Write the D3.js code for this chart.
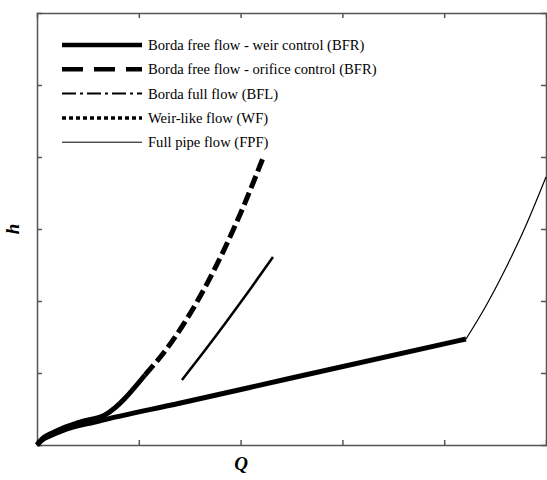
<!DOCTYPE html>
<html>
<meta charset="utf-8" />
<head>
<style>
body { margin: 0; background: #fff; }
svg text { font-family: "Liberation Serif", "DejaVu Serif", serif; fill: black; }
</style>
<script src="https://d3js.org/d3.v7.min.js" charset="utf-8"></script>
</head>
<body>
<svg class="chart"></svg>
<script>
var chartWidth = 547;
var chartHeight = 480;

/*******
* Data *
*******/
// Borda free flow, weir control: lower branch and upper branch
var weirLowQ = [0, 0.05, 0.13, 0.25, 0.6, 1.4, 2.5, 4.214];
var weirLowH = [0, 0.07, 0.13, 0.2, 0.33, 0.58, 0.93, 1.472];
var weirUpQ = [0, 0.049, 0.128, 0.255, 0.422, 0.668, 1.061];
var weirUpH = [0, 0.083, 0.153, 0.236, 0.319, 0.417, 0.972];
// Borda free flow, orifice control
var orificeQ = [1.061, 1.257, 1.454, 1.65, 1.847, 2.043, 2.22];
var orificeH = [0.972, 1.304, 1.711, 2.188, 2.74, 3.363, 3.986];
// Borda full flow
var bflQ = [1.424, 1.65, 1.866, 2.092, 2.318];
var bflH = [0.903, 1.315, 1.722, 2.16, 2.611];
// Full pipe flow
var fpfQ = [4.214, 4.411, 4.607, 4.804, 5.0];
var fpfH = [1.472, 1.935, 2.462, 3.053, 3.722];

var xTicks = [1, 2, 3, 4];
var yTicks = [1, 2, 3, 4, 5];

var legendLabels = [
  "Borda free flow - weir control (BFR)",
  "Borda free flow - orifice control (BFR)",
  "Borda full flow (BFL)",
  "Weir-like flow (WF)",
  "Full pipe flow (FPF)"
];

/*************
* Make Chart *
*************/
var svg = d3.select(".chart")
  .attr("width", chartWidth)
  .attr("height", chartHeight);

var x = d3.scaleLinear().domain([0, 5]).range([37, 546]);
var y = d3.scaleLinear().domain([0, 6]).range([445, 13]);

function pts(qs, hs) { return qs.map(function(q, i) { return [q, hs[i]]; }); }

var line = d3.line()
  .x(function(d) { return x(d[0]); })
  .y(function(d) { return y(d[1]); })
  .curve(d3.curveMonotoneX);

// axes (box, inward ticks)
var axisColor = "#555";
svg.append("g").attr("transform", "translate(0,445)")
  .call(d3.axisTop(x).tickValues(xTicks).tickSize(5).tickFormat(""));
svg.append("g").attr("transform", "translate(0,13)")
  .call(d3.axisBottom(x).tickValues(xTicks).tickSize(5).tickFormat(""));
svg.append("g").attr("transform", "translate(37,0)")
  .call(d3.axisRight(y).tickValues(yTicks).tickSize(5).tickFormat(""));
svg.append("g").attr("transform", "translate(546,0)")
  .call(d3.axisLeft(y).tickValues(yTicks).tickSize(5).tickFormat(""));
svg.selectAll(".domain, .tick line")
  .attr("stroke", axisColor).attr("stroke-width", 1.5);

// curves
function draw(data, width, dash) {
  svg.append("path")
    .datum(data)
    .attr("d", line)
    .attr("fill", "none")
    .attr("stroke", "black")
    .attr("stroke-width", width)
    .attr("stroke-dasharray", dash)
    .attr("stroke-linejoin", "round");
}
draw(pts(weirLowQ, weirLowH), 5, null);
draw(pts(weirUpQ, weirUpH), 5, null);
draw(pts(orificeQ, orificeH), 5, "13,5");
draw(pts(bflQ, bflH), 2.5, null);
draw(pts(fpfQ, fpfH), 1.2, null);

// legend
var legendStyles = [
  { w: 4.5, dash: null },
  { w: 4.5, dash: "21,11" },
  { w: 2, dash: "14,4,3,4" },
  { w: 3.5, dash: "4,3" },
  { w: 1, dash: null }
];
var legend = svg.append("g");
legendLabels.forEach(function(lbl, i) {
  var cy = 45 + i * 24.3;
  legend.append("line")
    .attr("x1", 62).attr("x2", 142)
    .attr("y1", cy).attr("y2", cy)
    .attr("stroke", "black")
    .attr("stroke-width", legendStyles[i].w)
    .attr("stroke-dasharray", legendStyles[i].dash);
  legend.append("text")
    .attr("x", 148).attr("y", cy + 5)
    .style("font-size", "14.6px")
    .text(lbl);
});

// axis titles
svg.append("text")
  .attr("x", 241).attr("y", 470)
  .attr("text-anchor", "middle")
  .style("font-size", "19px").style("font-weight", "bold").style("font-style", "italic")
  .text("Q");
svg.append("text")
  .attr("transform", "translate(19,229) rotate(-90)")
  .attr("text-anchor", "middle")
  .style("font-size", "19px").style("font-weight", "bold").style("font-style", "italic")
  .text("h");
</script>
</body>
</html>
